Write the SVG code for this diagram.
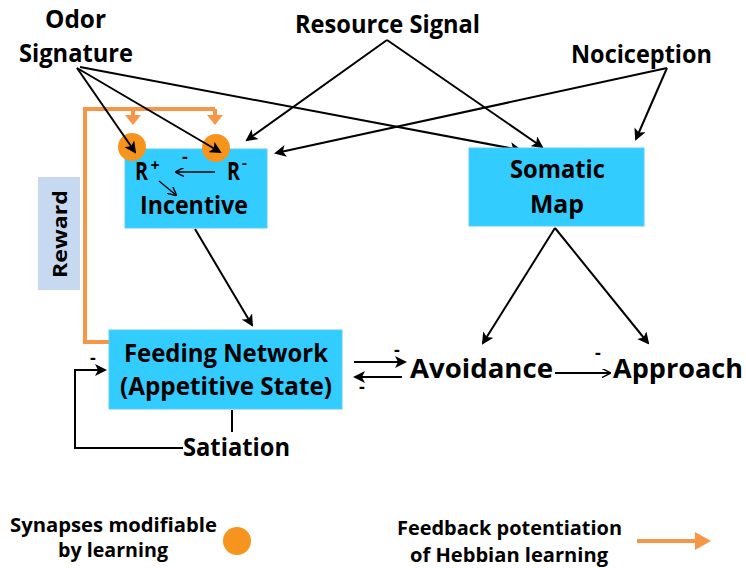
<svg xmlns="http://www.w3.org/2000/svg" width="746" height="568" viewBox="0 0 746 568">
<defs>
<style>
text{font-family:"Open Sans","Noto Sans","Liberation Sans",sans-serif;font-weight:bold;fill:#000;text-anchor:middle}
.lbl{font-size:25px}
.big{font-size:27px}
.sm{font-size:20px}
.dash{font-size:18px}
.box{fill:#33CCFF;stroke:#5BCDF5;stroke-width:1}
.ln{stroke:#000;stroke-width:2;fill:none}
.or{stroke:#F79646;stroke-width:4;fill:none}
.syn{fill:#F7941D}
</style>
<marker id="ah" markerWidth="12" markerHeight="12" refX="10" refY="6" orient="auto" markerUnits="userSpaceOnUse"><path d="M0,0 L12,6 L0,12 L3,6 z" fill="#000"/></marker>
<marker id="ahs" markerWidth="9" markerHeight="9" refX="8" refY="4.5" orient="auto" markerUnits="userSpaceOnUse"><path d="M0,0 L9,4.5 L0,9" fill="none" stroke="#000" stroke-width="1.4"/></marker>
<marker id="oah" markerWidth="16" markerHeight="18" refX="4" refY="9" orient="auto" markerUnits="userSpaceOnUse"><path d="M0,0 L16,9 L0,18 z" fill="#F79646"/></marker>
<marker id="oahd" markerWidth="10" markerHeight="16" refX="2" refY="8" orient="auto" markerUnits="userSpaceOnUse"><path d="M0,0 L10,8 L0,16 z" fill="#F79646"/></marker>
</defs>
<rect width="746" height="568" fill="#fff"/>

<g id="reward">
<rect x="38" y="177" width="42" height="113" fill="#C6D9F0"/>
<text class="sm" font-size="22" transform="translate(67,234) rotate(-90)" textLength="88" lengthAdjust="spacingAndGlyphs">Reward</text>
</g>

<g id="incentive">
<rect class="box" x="125" y="149" width="142" height="79"/>
<text class="lbl" x="141.5" y="180" textLength="13" lengthAdjust="spacingAndGlyphs">R</text>
<text x="155" y="171" font-size="16">+</text>
<text class="lbl" x="233.5" y="180" textLength="13" lengthAdjust="spacingAndGlyphs">R</text>
<text x="244.5" y="168" font-size="15">-</text>
<text class="dash" x="185" y="163">-</text>
<line x1="215" y1="172" x2="176" y2="172" stroke="#000" stroke-width="1.4" marker-end="url(#ahs)"/>
<line x1="159" y1="181" x2="176" y2="195" stroke="#000" stroke-width="1.4" marker-end="url(#ahs)"/>
<text class="lbl" x="194" y="214" textLength="108" lengthAdjust="spacingAndGlyphs">Incentive</text>
</g>

<g id="synapses">
<circle class="syn" cx="132" cy="147" r="14"/>
<circle class="syn" cx="216" cy="148" r="14"/>
</g>

<g id="connectors">
<path class="or" d="M109,342 H85 V109 H215"/>
<line class="or" x1="133" y1="109" x2="133" y2="117" marker-end="url(#oahd)"/>
<line class="or" x1="215" y1="109" x2="215" y2="117" marker-end="url(#oahd)"/>
<line class="ln" x1="77" y1="68" x2="135" y2="152" marker-end="url(#ah)"/>
<line class="ln" x1="77" y1="68" x2="220" y2="152" marker-end="url(#ah)"/>
<line class="ln" x1="80" y1="67" x2="520" y2="150" marker-end="url(#ah)"/>
<line class="ln" x1="387" y1="40" x2="247" y2="140" marker-end="url(#ah)"/>
<line class="ln" x1="387" y1="40" x2="542" y2="147" marker-end="url(#ah)"/>
<line class="ln" x1="667" y1="68" x2="276" y2="153" marker-end="url(#ah)"/>
<line class="ln" x1="667" y1="68" x2="636" y2="139" marker-end="url(#ah)"/>
<line class="ln" x1="195" y1="229" x2="252" y2="325" marker-end="url(#ah)"/>
<line class="ln" x1="555" y1="228" x2="483" y2="343" marker-end="url(#ah)"/>
<line class="ln" x1="555" y1="228" x2="648" y2="343" marker-end="url(#ah)"/>
<line class="ln" x1="354" y1="362" x2="405" y2="362" marker-end="url(#ah)"/>
<line class="ln" x1="402" y1="377" x2="355" y2="377" marker-end="url(#ah)"/>
<text class="dash" x="397" y="356">-</text>
<text class="dash" x="362" y="393">-</text>
<line class="ln" x1="555" y1="373" x2="610" y2="373" marker-end="url(#ahs)"/>
<text class="dash" x="598" y="359">-</text>
<line class="ln" x1="232" y1="410" x2="232" y2="432"/>
<path class="ln" d="M183,448 H75 V370 H105" marker-end="url(#ah)"/>
<text class="dash" x="93" y="364">-</text>
</g>

<g id="odor">
<text class="lbl" x="75.5" y="28" textLength="61" lengthAdjust="spacingAndGlyphs">Odor</text>
<text class="lbl" x="76" y="62" textLength="114" lengthAdjust="spacingAndGlyphs">Signature</text>
</g>
<g id="resource"><text class="lbl" x="387.5" y="33" textLength="185" lengthAdjust="spacingAndGlyphs">Resource Signal</text></g>
<g id="nociception"><text class="lbl" x="641.5" y="63" textLength="141" lengthAdjust="spacingAndGlyphs">Nociception</text></g>

<g id="somatic">
<rect class="box" x="469" y="148" width="175" height="78"/>
<text class="lbl" x="557.5" y="178" textLength="95" lengthAdjust="spacingAndGlyphs">Somatic</text>
<text class="lbl" x="557" y="213" textLength="54" lengthAdjust="spacingAndGlyphs">Map</text>
</g>

<g id="feeding">
<rect class="box" x="109" y="330" width="233" height="79"/>
<text class="lbl" x="226" y="362" textLength="204" lengthAdjust="spacingAndGlyphs">Feeding Network</text>
<text class="lbl" x="226" y="395" textLength="212" lengthAdjust="spacingAndGlyphs">(Appetitive State)</text>
</g>

<g id="avoidance"><text class="big" x="481.5" y="378" textLength="143" lengthAdjust="spacingAndGlyphs">Avoidance</text></g>
<g id="approach"><text class="big" x="678" y="378" textLength="130" lengthAdjust="spacingAndGlyphs">Approach</text></g>
<g id="satiation"><text class="lbl" x="236.5" y="456" textLength="107" lengthAdjust="spacingAndGlyphs">Satiation</text></g>

<g id="legend">
<text class="sm" x="113.5" y="532" textLength="207" lengthAdjust="spacingAndGlyphs">Synapses modifiable</text>
<text class="sm" x="113" y="557" textLength="110" lengthAdjust="spacingAndGlyphs">by learning</text>
<circle class="syn" cx="237" cy="541" r="14"/>
<text class="sm" x="509.5" y="535" textLength="225" lengthAdjust="spacingAndGlyphs">Feedback potentiation</text>
<text class="sm" x="509" y="562" textLength="198" lengthAdjust="spacingAndGlyphs">of Hebbian learning</text>
<line class="or" x1="637" y1="541" x2="699" y2="541" marker-end="url(#oah)"/>
</g>
</svg>
